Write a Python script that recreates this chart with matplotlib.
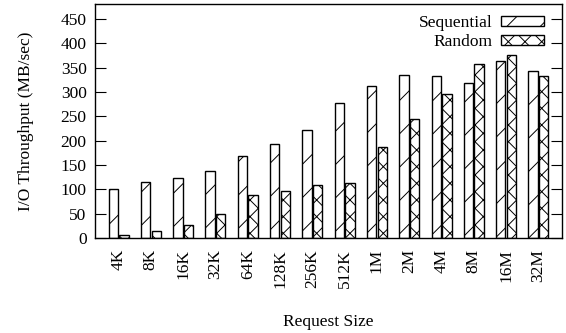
import numpy as np
import matplotlib
matplotlib.use('Agg')
import matplotlib.pyplot as plt

sizes = ['4K', '8K', '16K', '32K', '64K', '128K', '256K', '512K',
         '1M', '2M', '4M', '8M', '16M', '32M']
sequential = [100, 116, 123, 138, 168, 194, 223, 278, 313, 336, 332, 319, 363, 343]
random_io = [7, 14, 27, 50, 88, 97, 108, 114, 188, 245, 295, 357, 377, 332]
yticks = [0, 50, 100, 150, 200, 250, 300, 350, 400, 450]

plt.rcParams['font.family'] = ['Liberation Serif', 'DejaVu Serif']
plt.rcParams['hatch.linewidth'] = 0.7
fs = 12.5

fig = plt.figure(figsize=(5.66, 3.33), dpi=100)
ax = fig.add_axes([95 / 566, 1 - 238 / 333, 467 / 566, 234 / 333])

x = np.arange(len(sizes))
w = 0.29
ax.bar(x - w / 2 - 0.02, sequential, w, facecolor='white', edgecolor='black',
       linewidth=1.0, hatch='/', label='Sequential')
ax.bar(x + w / 2 + 0.02, random_io, w, facecolor='white', edgecolor='black',
       linewidth=1.0, hatch='xx', label='Random')

ax.set_xlim(-0.73, len(sizes) - 1 + 0.73)
ax.set_ylim(0, 481)
ax.set_yticks(yticks)
ax.set_xticks(x)
ax.set_xticklabels(sizes, rotation=90, fontsize=fs)
ax.tick_params(axis='x', length=0, pad=8)
ax.tick_params(axis='y', direction='in', length=8, right=True, labelsize=fs, pad=6)

for s in ax.spines.values():
    s.set_linewidth(1.0)

ax.set_ylabel('I/O Throughput (MB/sec)', fontsize=fs, labelpad=19)
fig.text(328 / 566, 1 - 322 / 333, 'Request Size', ha='center', va='center', fontsize=fs)

ax.legend(loc='upper right', bbox_to_anchor=(1 - 18 / 467, 1 - 11 / 234),
          frameon=False, markerfirst=False, fontsize=fs,
          handlelength=2.5, handleheight=0.52, labelspacing=0.18,
          borderaxespad=0, borderpad=0, handletextpad=0.46)

fig.savefig('out.png', dpi=100)
